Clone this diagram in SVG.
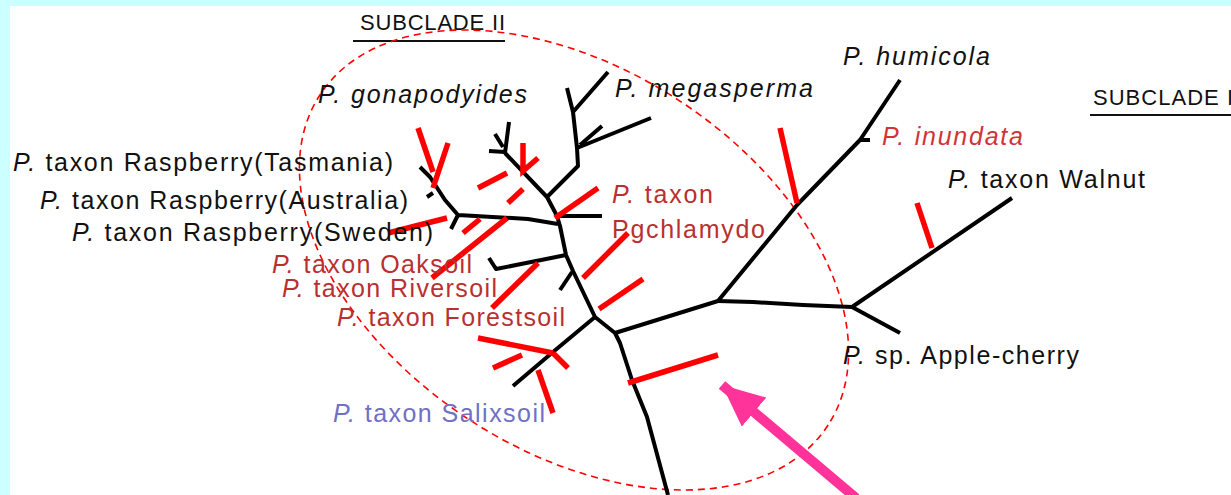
<svg xmlns="http://www.w3.org/2000/svg" width="1231" height="495" viewBox="0 0 1231 495">
<style>
.br{fill:none;stroke:#000;stroke-width:4;stroke-linejoin:round;stroke-linecap:butt}
.tk{fill:none;stroke:#ff0000;stroke-width:5.5;stroke-linecap:butt}
.lb{font-family:"Liberation Sans",Arial,sans-serif;font-size:25px;fill:#111}
.hd{font-family:"Liberation Sans",Arial,sans-serif;font-size:22px;fill:#111}
.red{fill:#b83030}
.blue{fill:#7070c4}
.it{font-style:italic}
.ul{stroke:#111;stroke-width:2}
</style>
<defs>
<marker id="arrowhead" markerUnits="userSpaceOnUse" markerWidth="46" markerHeight="42" refX="42" refY="19" orient="auto">
<path d="M0,0 L42,19 L0,38 Z" fill="#ff3399"/>
</marker>
</defs>

<!-- page background with cyan frame -->
<rect x="0" y="0" width="1231" height="495" fill="#ccffff"/>
<rect x="10" y="6" width="1221" height="489" fill="#ffffff"/>

<!-- subclade headings -->
<g id="subclade-2">
<text class="hd" x="360" y="30" textLength="145" lengthAdjust="spacing">SUBCLADE II</text>
<line class="ul" x1="353" y1="41" x2="505" y2="41"/>
</g>
<g id="subclade-1">
<text class="hd" x="1093" y="105" textLength="140" lengthAdjust="spacing">SUBCLADE I</text>
<line class="ul" x1="1090" y1="115" x2="1231" y2="115"/>
</g>

<!-- dashed outline around subclade II -->
<g id="subclade-2-outline">
<ellipse cx="574" cy="260" rx="303" ry="191" transform="rotate(33 574 260)" fill="none" stroke="#ff0000" stroke-width="1.6" stroke-dasharray="7 5"/>
</g>

<!-- tree branches -->
<g id="connectors">
<path class="br" d="M668,495 L647,417 L632,380 L620,343 L615,333 L595,317 L573,271 L566,255 L560,226 L557,216 L547,197 L505,153"/>
<path class="br" d="M505,153 L509,122 M503,147 L495,134 M505,152 L489,151"/>
<path class="br" d="M547,197 L578,166 L577,148 L573,112 L567,88 M573,112 L608,72 M577,148 L651,118 M580,145 L602,126"/>
<path class="br" d="M557,216 L602,216"/>
<path class="br" d="M558,224 L528,219 L458,215 L445,200 L430,177 L420,167 M433,193 L427,197 M458,215 L451,229"/>
<path class="br" d="M566,255 L496,269 L489,258"/>
<path class="br" d="M572,272 L560,290"/>
<path class="br" d="M595,317 L553,352 L513,386"/>
<path class="br" d="M615,333 L718,301"/>
<path class="br" d="M718,301 L797,205 L860,140 L900,80 M859,140 L870,140"/>
<path class="br" d="M718,301 L753,302 L803,305 L852,307"/>
<path class="br" d="M852,307 L1012,198"/>
<path class="br" d="M852,307 L900,333"/>
</g>

<!-- red marks across branches -->
<g id="marks">
<line class="tk" x1="418" y1="128" x2="433" y2="172"/>
<line class="tk" x1="448" y1="143" x2="433" y2="188"/>
<line class="tk" x1="478" y1="188" x2="507" y2="173"/>
<line class="tk" x1="508" y1="203" x2="523" y2="189"/>
<path class="tk" d="M523,143 L523,171 L538,158"/>
<line class="tk" x1="388" y1="233" x2="447" y2="218"/>
<line class="tk" x1="463" y1="233" x2="480" y2="219"/>
<line class="tk" x1="432" y1="278" x2="507" y2="218"/>
<line class="tk" x1="492" y1="308" x2="538" y2="263"/>
<line class="tk" x1="555" y1="218" x2="598" y2="188"/>
<line class="tk" x1="583" y1="278" x2="628" y2="233"/>
<line class="tk" x1="599" y1="309" x2="643" y2="279"/>
<line class="tk" x1="628" y1="383" x2="718" y2="355"/>
<line class="tk" x1="478" y1="338" x2="553" y2="353"/>
<line class="tk" x1="553" y1="353" x2="568" y2="368"/>
<line class="tk" x1="493" y1="368" x2="522" y2="355"/>
<line class="tk" x1="538" y1="370" x2="553" y2="413"/>
<line class="tk" x1="780" y1="128" x2="797" y2="203"/>
<line class="tk" x1="917" y1="203" x2="932" y2="248"/>
</g>

<!-- taxon labels -->
<g id="gonapodyides"><text class="lb it" x="318" y="103" textLength="209" lengthAdjust="spacing">P. gonapodyides</text></g>
<g id="megasperma"><text class="lb it" x="615" y="97" textLength="198" lengthAdjust="spacing">P. megasperma</text></g>
<g id="humicola"><text class="lb it" x="843" y="65" textLength="147" lengthAdjust="spacing">P. humicola</text></g>
<g id="inundata"><text class="lb it red" x="882" y="145" textLength="141" lengthAdjust="spacing" style="fill:#d03434">P. inundata</text></g>
<g id="walnut"><text class="lb" x="948" y="188" textLength="197" lengthAdjust="spacing"><tspan class="it">P.</tspan> taxon Walnut</text></g>
<g id="raspberry-tasmania"><text class="lb" x="13" y="171" textLength="380" lengthAdjust="spacing"><tspan class="it">P.</tspan> taxon Raspberry(Tasmania)</text></g>
<g id="raspberry-australia"><text class="lb" x="40" y="209" textLength="368" lengthAdjust="spacing"><tspan class="it">P.</tspan> taxon Raspberry(Australia)</text></g>
<g id="raspberry-sweden"><text class="lb" x="72" y="241" textLength="361" lengthAdjust="spacing"><tspan class="it">P.</tspan> taxon Raspberry(Sweden)</text></g>
<g id="pgchlamydo">
<text class="lb red" x="612" y="203" textLength="101" lengthAdjust="spacing"><tspan class="it">P.</tspan> taxon</text>
<text class="lb red" x="612" y="238" textLength="153" lengthAdjust="spacing">Pgchlamydo</text>
</g>
<g id="oaksoil"><text class="lb red" x="272" y="273" textLength="200" lengthAdjust="spacing"><tspan class="it">P.</tspan> taxon Oaksoil</text></g>
<g id="riversoil"><text class="lb red" x="282" y="297" textLength="215" lengthAdjust="spacing"><tspan class="it">P.</tspan> taxon Riversoil</text></g>
<g id="forestsoil"><text class="lb red" x="337" y="326" textLength="228" lengthAdjust="spacing"><tspan class="it">P.</tspan> taxon Forestsoil</text></g>
<g id="salixsoil"><text class="lb blue" x="333" y="422" textLength="212" lengthAdjust="spacing"><tspan class="it">P.</tspan> taxon Salixsoil</text></g>
<g id="apple-cherry"><text class="lb" x="843" y="364" textLength="236" lengthAdjust="spacing"><tspan class="it">P.</tspan> sp. Apple-cherry</text></g>

<!-- pointer arrow -->
<g id="pointer">
<line x1="856" y1="498" x2="722" y2="385" stroke="#ff3399" stroke-width="10" marker-end="url(#arrowhead)"/>
</g>
</svg>
